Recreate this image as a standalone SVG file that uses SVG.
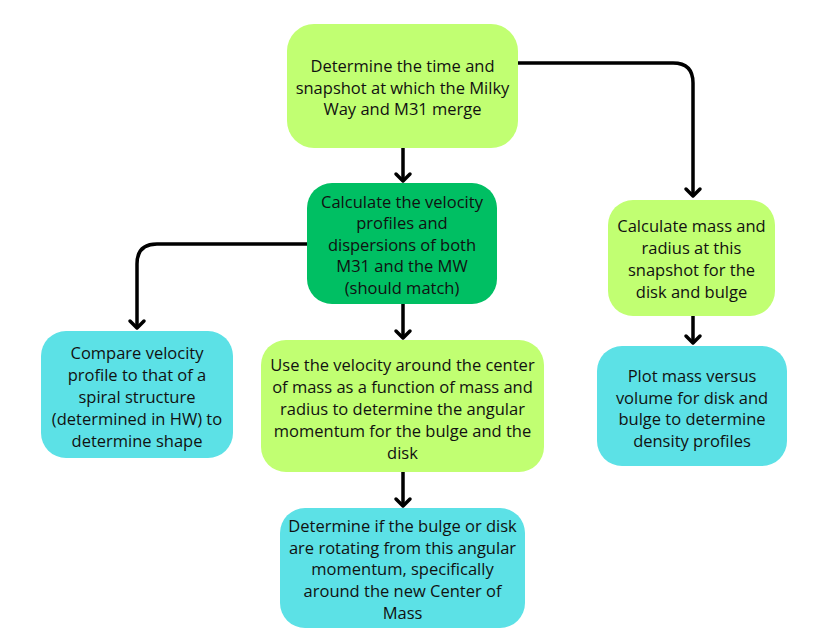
<svg xmlns="http://www.w3.org/2000/svg" width="819" height="641" viewBox="0 0 819 641">
<defs>
<style>
.lg{fill:#C1FF72}
.dg{fill:#00BF63}
.cy{fill:#5CE1E6}
text{font-family:"Open Sans","Noto Sans",sans-serif;font-size:16.5px;fill:#111;text-anchor:middle;dominant-baseline:central}
.c{fill:none;stroke:#000;stroke-width:3.5;stroke-linecap:butt}
.h{fill:none;stroke:#000;stroke-width:3.5;stroke-linecap:round;stroke-linejoin:round}
</style>
</defs>
<rect width="819" height="641" fill="#fff"/>
<g id="connectors">
<path class="c" d="M403 148V181"/>
<path class="h" d="M396 174L403 181L410 174"/>
<path class="c" d="M403 304V338"/>
<path class="h" d="M396 331L403 338L410 331"/>
<path class="c" d="M403 472V506"/>
<path class="h" d="M396 499L403 506L410 499"/>
<path class="c" d="M307 244H157Q137 244 137 264V328"/>
<path class="h" d="M130 321L137 328L144 321"/>
<path class="c" d="M518 63H673Q693 63 693 83V196"/>
<path class="h" d="M686 189L693 196L700 189"/>
<path class="c" d="M693 316V343"/>
<path class="h" d="M686 336L693 343L700 336"/>
</g>
<g id="n1">
<rect class="lg" x="287" y="24" width="231" height="124" rx="27"/>
<text x="402.5" y="65">Determine the time and</text>
<text x="402.5" y="87">snapshot at which the Milky</text>
<text x="402.5" y="108">Way and M31 merge</text>
</g>
<g id="n2">
<rect class="dg" x="307" y="183" width="190" height="121" rx="25"/>
<text x="402" y="201">Calculate the velocity</text>
<text x="402" y="222">profiles and</text>
<text x="402" y="244">dispersions of both</text>
<text x="402" y="265">M31 and the MW</text>
<text x="402" y="287">(should match)</text>
</g>
<g id="n3">
<rect class="cy" x="41" y="331" width="192" height="127" rx="25"/>
<text x="137" y="352">Compare velocity</text>
<text x="137" y="374">profile to that of a</text>
<text x="137" y="396">spiral structure</text>
<text x="137" y="418">(determined in HW) to</text>
<text x="137" y="440">determine shape</text>
</g>
<g id="n4">
<rect class="lg" x="261" y="340" width="283" height="132" rx="25"/>
<text x="402.5" y="364">Use the velocity around the center</text>
<text x="402.5" y="386">of mass as a function of mass and</text>
<text x="402.5" y="408">radius to determine the angular</text>
<text x="402.5" y="430">momentum for the bulge and the</text>
<text x="402.5" y="452">disk</text>
</g>
<g id="n5">
<rect class="cy" x="280" y="508" width="245" height="120" rx="25"/>
<text x="402.5" y="525">Determine if the bulge or disk</text>
<text x="402.5" y="547">are rotating from this angular</text>
<text x="402.5" y="568">momentum, specifically</text>
<text x="402.5" y="590">around the new Center of</text>
<text x="402.5" y="612">Mass</text>
</g>
<g id="n6">
<rect class="lg" x="608" y="200" width="167" height="116" rx="25"/>
<text x="691.5" y="225">Calculate mass and</text>
<text x="691.5" y="247">radius at this</text>
<text x="691.5" y="269">snapshot for the</text>
<text x="691.5" y="291">disk and bulge</text>
</g>
<g id="n7">
<rect class="cy" x="597" y="346" width="190" height="120" rx="25"/>
<text x="692" y="375">Plot mass versus</text>
<text x="692" y="397">volume for disk and</text>
<text x="692" y="418">bulge to determine</text>
<text x="692" y="440">density profiles</text>
</g>
</svg>
